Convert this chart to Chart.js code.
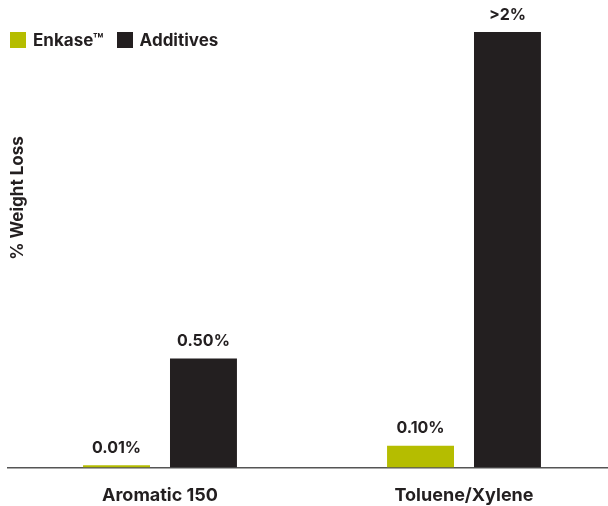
<!DOCTYPE html>
<html>
<head>
<meta charset="utf-8">
<script src="https://cdn.jsdelivr.net/npm/chart.js@4"></script>
<style>
  html, body { margin: 0; padding: 0; background: #fff; overflow: hidden; }
  #wrap { position: relative; width: 608px; height: 506px; overflow: hidden; }
  #legend { position: absolute; left: 10px; top: 30px; display: flex; font: bold 17px Inter, sans-serif; color: #231f20; }
  #legend span.item { display: flex; align-items: center; margin-right: 13px; }
  #legend span.box { display: inline-block; width: 16px; height: 16px; margin-right: 7px; }
</style>
</head>
<body>
<div id="wrap">
  <canvas id="chart" width="620" height="506" style="width:620px;height:506px"></canvas>
  <div id="legend"></div>
</div>
<script>
// 类别与数据
const categories = ['Aromatic 150', 'Toluene/Xylene'];
const enkaseValues = [0.01, 0.10];
const additivesValues = [0.50, 2.0];
const enkaseLabels = ['0.01%', '0.10%'];
const additivesLabels = ['0.50%', '>2%'];

const GREEN = '#b5bd00';
const DARK = '#231f20';
const FONT = 'Inter, sans-serif';

// 柱顶数值标签
const valueLabelPlugin = {
  id: 'valueLabels',
  afterDatasetsDraw(chart) {
    const ctx = chart.ctx;
    ctx.save();
    ctx.font = 'bold 16px ' + FONT;
    ctx.fillStyle = DARK;
    ctx.textAlign = 'center';
    ctx.textBaseline = 'bottom';
    chart.data.datasets.forEach((ds, i) => {
      chart.getDatasetMeta(i).data.forEach((bar, j) => {
        ctx.fillText(ds.valueLabels[j], bar.x, bar.y - 9);
      });
    });
    ctx.restore();
  }
};

// Y 轴标题（不居中）
const yTitlePlugin = {
  id: 'yTitle',
  afterDraw(chart) {
    const ctx = chart.ctx;
    ctx.save();
    ctx.translate(26, 198);
    ctx.rotate(-Math.PI / 2);
    ctx.font = 'bold 17px ' + FONT;
    ctx.fillStyle = DARK;
    ctx.textAlign = 'center';
    ctx.textBaseline = 'bottom';
    ctx.fillText('% Weight Loss', 0, 0);
    ctx.restore();
  }
};

const chart = new Chart(document.getElementById('chart'), {
  type: 'bar',
  data: {
    labels: categories,
    datasets: [
      { label: 'Enkase™', data: enkaseValues, valueLabels: enkaseLabels, backgroundColor: GREEN },
      { label: 'Additives', data: additivesValues, valueLabels: additivesLabels, backgroundColor: DARK }
    ]
  },
  options: {
    responsive: false,
    animation: false,
    layout: { padding: { left: 8, right: 4, top: 22, bottom: -17 } },
    datasets: { bar: { barPercentage: 0.77, categoryPercentage: 0.572 } },
    plugins: { legend: { display: false }, tooltip: { enabled: false } },
    scales: {
      x: {
        grid: { display: false, drawTicks: false },
        border: { display: true, color: '#555', width: 1.5 },
        ticks: { color: DARK, font: { family: FONT, size: 18, weight: 'bold' }, padding: 17 }
      },
      y: { display: false, min: 0, max: 2.046 }
    }
  },
  plugins: [valueLabelPlugin, yTitlePlugin]
});

// HTML 图例
const legend = document.getElementById('legend');
chart.data.datasets.forEach(ds => {
  const item = document.createElement('span');
  item.className = 'item';
  const box = document.createElement('span');
  box.className = 'box';
  box.style.background = ds.backgroundColor;
  item.appendChild(box);
  item.appendChild(document.createTextNode(ds.label));
  legend.appendChild(item);
});
</script>
</body>
</html>
